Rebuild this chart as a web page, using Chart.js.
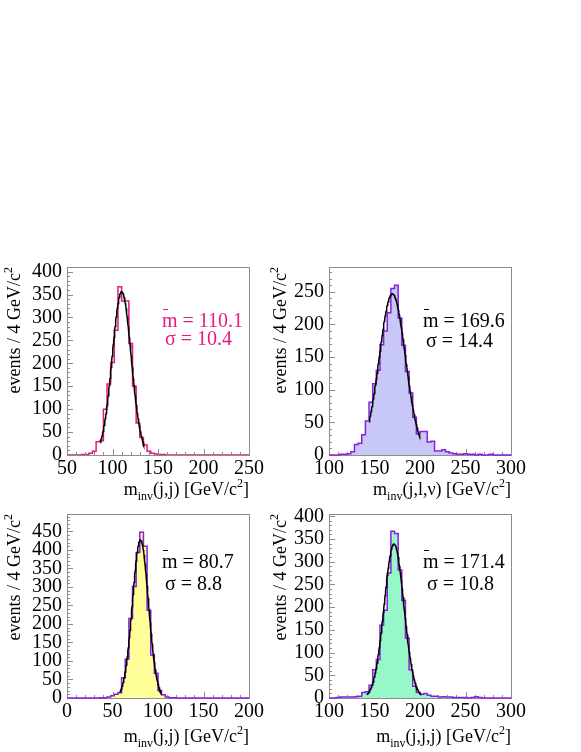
<!DOCTYPE html>
<html><head><meta charset="utf-8">
<script src="https://cdn.jsdelivr.net/npm/chart.js@4/dist/chart.umd.min.js"></script>
<style>
html,body{margin:0;padding:0;background:#fff;}
body{width:581px;height:752px;position:relative;overflow:hidden;}
canvas{position:absolute;}
</style></head><body>
<canvas id="c1" style="left:0px;top:250px" width="270" height="255"></canvas>
<canvas id="c2" style="left:255px;top:250px" width="326" height="255"></canvas>
<canvas id="c3" style="left:0px;top:497px" width="270" height="255"></canvas>
<canvas id="c4" style="left:255px;top:497px" width="326" height="255"></canvas>
<script>
// ---------- data ----------
const binWidth = 4;

// panel 1: m_inv(j,j), 50..250
const p1Range = [50, 250];
const p1Counts = [0,0,0,0,1,1,4,8,29,31,100,155,202,272,367,336,336,243,150,70,38,22,8,4,2,1,1,0,0,0,
                  0,0,0,0,0,0,0,0,0,0,0,0,0,0,0,0,0,0,0,0];
const p1XTicks = [50,100,150,200,250];
const p1YTicks = [0,50,100,150,200,250,300,350,400];
const p1Fit = [110.1, 10.4, 356, 86.5, 134.5]; // mean, sigma, amplitude, from, to

// panel 2: m_inv(j,l,nu), 100..300
const p2Range = [100, 300];
const p2Counts = [0,0,0,1,1,2,5,16,18,31,52,81,109,130,169,190,218,255,260,210,168,128,95,58,32,36,36,20,21,6,
                  6,8,5,3,2,1,1,2,1,1,0,1,0,0,1,0,0,0,0,0];
const p2XTicks = [100,150,200,250,300];
const p2YTicks = [0,50,100,150,200,250];
const p2Fit = [169.6, 14.4, 247, 144, 200];

// panel 3: m_inv(j,j), 0..200
const p3Range = [0, 200];
const p3Counts = [0,0,0,0,0,0,0,0,0,1,1,3,6,10,14,55,105,215,301,393,448,410,237,116,67,20,9,3,1,1,
                  0,0,0,0,0,0,0,0,0,0,0,0,0,0,0,0,0,0,0,0];
const p3XTicks = [0,50,100,150,200];
const p3YTicks = [0,50,100,150,200,250,300,350,400,450];
const p3Fit = [80.7, 8.8, 427, 58, 103];

// panel 4: m_inv(j,j,j), 100..300
const p4Range = [100, 300];
const p4Counts = [0,0,1,2,2,2,2,3,4,12,14,28,62,85,160,193,275,367,362,282,215,132,62,26,12,8,10,6,4,4,
                  2,3,2,2,1,1,1,1,0,1,3,1,0,0,0,0,0,0,0,0];
const p4XTicks = [100,150,200,250,300];
const p4YTicks = [0,50,100,150,200,250,300,350,400];
const p4Fit = [171.4, 10.8, 339, 141.5, 200.5];

const yMaxes = [410, 288, 497, 405];
const meanLabels = ['110.1', '169.6', '80.7', '171.4'];
const sigmaLabels = ['10.4', '14.4', '8.8', '10.8'];
const xTitleArgs = ['(j,j)', '(j,l,\u03bd)', '(j,j)', '(j,j,j)'];
const yTitle = 'events / 4 GeV/c';

// ---------- styles / layout ----------
const FONT = '"Liberation Serif", "Times New Roman", serif';
const FRAME = '#8c8c8c';
const PINK = '#e6197f';
const VIOLET = '#8a1fe0';

const layouts = [
  {canvas:'c1', yw:67, top:16, right:21, xh:50, frameOnTop:true,  line:PINK,   fill:null,       text:PINK, ytx:20, mx:162, my:77, sx:165, sy:95},
  {canvas:'c2', yw:74, top:17, right:70, xh:50, frameOnTop:false, line:VIOLET, fill:'#c8c8f8',  text:'#000', ytx:31, mx:168, my:77, sx:171, sy:97},
  {canvas:'c3', yw:67, top:13, right:21, xh:54, frameOnTop:false, line:VIOLET, fill:'#ffff99',  text:'#000', ytx:20, mx:162, my:71, sx:165, sy:93},
  {canvas:'c4', yw:74, top:13, right:70, xh:54, frameOnTop:false, line:VIOLET, fill:'#96f8c8',  text:'#000', ytx:31, mx:168, my:71, sx:172, sy:93}
];
const ranges = [p1Range, p2Range, p3Range, p4Range];
const countsAll = [p1Counts, p2Counts, p3Counts, p4Counts];
const xTicksAll = [p1XTicks, p2XTicks, p3XTicks, p4XTicks];
const yTicksAll = [p1YTicks, p2YTicks, p3YTicks, p4YTicks];
const fitsAll = [p1Fit, p2Fit, p3Fit, p4Fit];

function histPoints(range, counts) {
  const pts = counts.map((c, i) => ({x: range[0] + i * binWidth, y: c}));
  pts.push({x: range[1], y: 0});
  return pts;
}
function fitPoints(fit) {
  const [mu, s, a, from, to] = fit;
  const pts = [];
  const n = 120;
  for (let i = 0; i <= n; i++) {
    const x = from + (to - from) * i / n;
    pts.push({x, y: a * Math.exp(-(x - mu) * (x - mu) / (2 * s * s))});
  }
  return pts;
}

function drawRich(ctx, parts, x, y, align) {
  let w = 0;
  for (const p of parts) { ctx.font = p.size + 'px ' + FONT; w += ctx.measureText(p.t).width; }
  let cx = align === 'right' ? x - w : x;
  ctx.textAlign = 'left';
  ctx.textBaseline = 'alphabetic';
  for (const p of parts) {
    ctx.font = p.size + 'px ' + FONT;
    ctx.fillText(p.t, cx, y + (p.dy || 0));
    cx += ctx.measureText(p.t).width;
  }
}

function drawFrame(chart, L, xr, yTicks) {
  const ctx = chart.ctx, a = chart.chartArea;
  const xs = chart.scales.x, ys = chart.scales.y;
  ctx.save();
  ctx.strokeStyle = FRAME;
  ctx.lineWidth = 1;
  ctx.strokeRect(Math.round(a.left) + 0.5, Math.round(a.top) + 0.5, Math.round(a.right - a.left), Math.round(a.bottom - a.top));
  ctx.beginPath();
  // x ticks: major every 50, minor every 10
  for (let v = xr[0]; v <= xr[1] + 1e-6; v += 10) {
    const px = Math.round(xs.getPixelForValue(v)) + 0.5;
    const len = ((v - xr[0]) % 50 === 0) ? 6 : 3;
    ctx.moveTo(px, a.bottom); ctx.lineTo(px, a.bottom - len);
  }
  for (let v = 0; v <= ys.max + 1e-6; v += 10) {
    const py = Math.round(ys.getPixelForValue(v)) + 0.5;
    const len = (v % 50 === 0) ? 6 : 3;
    ctx.moveTo(a.left, py); ctx.lineTo(a.left + len, py);
  }
  ctx.stroke();
  ctx.restore();
}

layouts.forEach((L, k) => {
  const xr = ranges[k];
  const plugin = {
    id: 'panel' + k,
    beforeDatasetsDraw(chart) { if (!L.frameOnTop) drawFrame(chart, L, xr, yTicksAll[k]); },
    afterDatasetsDraw(chart) { if (L.frameOnTop) drawFrame(chart, L, xr, yTicksAll[k]); },
    afterDraw(chart) {
      const ctx = chart.ctx, a = chart.chartArea;
      ctx.save();
      ctx.fillStyle = '#000';
      // x title, right aligned to frame
      drawRich(ctx, [
        {t:'m', size:18},
        {t:'inv', size:12, dy:5},
        {t:xTitleArgs[k] + ' [GeV/c', size:18},
        {t:'2', size:12, dy:-8},
        {t:']', size:18}
      ], a.right, 245, 'right');
      // y title, rotated, end at frame top
      ctx.save();
      ctx.translate(L.ytx, a.top);
      ctx.rotate(-Math.PI / 2);
      drawRich(ctx, [{t:yTitle, size:18}, {t:'2', size:12, dy:-8}], 0, 0, 'right');
      ctx.restore();
      // annotations
      ctx.fillStyle = L.text;
      ctx.strokeStyle = L.text;
      ctx.font = '20px ' + FONT;
      ctx.textAlign = 'left';
      ctx.textBaseline = 'alphabetic';
      ctx.fillText('m', L.mx, L.my);
      const mw = ctx.measureText('m').width;
      ctx.fillText(' = ' + meanLabels[k], L.mx + mw, L.my);
      ctx.lineWidth = 1;
      ctx.beginPath();
      ctx.moveTo(L.mx + 1, L.my - 17.5);
      ctx.lineTo(L.mx + 6, L.my - 17.5);
      ctx.stroke();
      ctx.fillText('\u03c3 = ' + sigmaLabels[k], L.sx, L.sy);
      ctx.restore();
    }
  };
  new Chart(document.getElementById(L.canvas), {
    type: 'line',
    data: {
      datasets: [
        {data: fitPoints(fitsAll[k]), borderColor:'#000', borderWidth:1.5, pointRadius:0, fill:false, tension:0, order:0},
        {data: histPoints(xr, countsAll[k]), stepped:'before', borderColor:L.line, borderWidth:1.5,
         backgroundColor: L.fill || 'rgba(0,0,0,0)', fill: L.fill ? 'origin' : false, pointRadius:0, clip:false, order:1}
      ]
    },
    options: {
      responsive:false, animation:false, devicePixelRatio:1,
      layout:{padding:{left:0, top:L.top, right:L.right, bottom:0}},
      plugins:{legend:{display:false}, tooltip:{enabled:false}},
      scales:{
        x:{type:'linear', min:xr[0], max:xr[1],
           grid:{display:false, drawTicks:false}, border:{display:false},
           ticks:{autoSkip:false, maxRotation:0, padding:2, color:'#000', font:{family:FONT, size:20}},
           afterBuildTicks: s => { s.ticks = xTicksAll[k].map(v => ({value:v})); },
           afterFit: s => { s.height = L.xh; }},
        y:{type:'linear', min:0, max:yMaxes[k],
           grid:{display:false, drawTicks:false}, border:{display:false},
           ticks:{autoSkip:false, padding:5, color:'#000', font:{family:FONT, size:20}},
           afterBuildTicks: s => { s.ticks = yTicksAll[k].map(v => ({value:v})); },
           afterFit: s => { s.width = L.yw; }}
      }
    },
    plugins:[plugin]
  });
});
</script>
</body></html>
